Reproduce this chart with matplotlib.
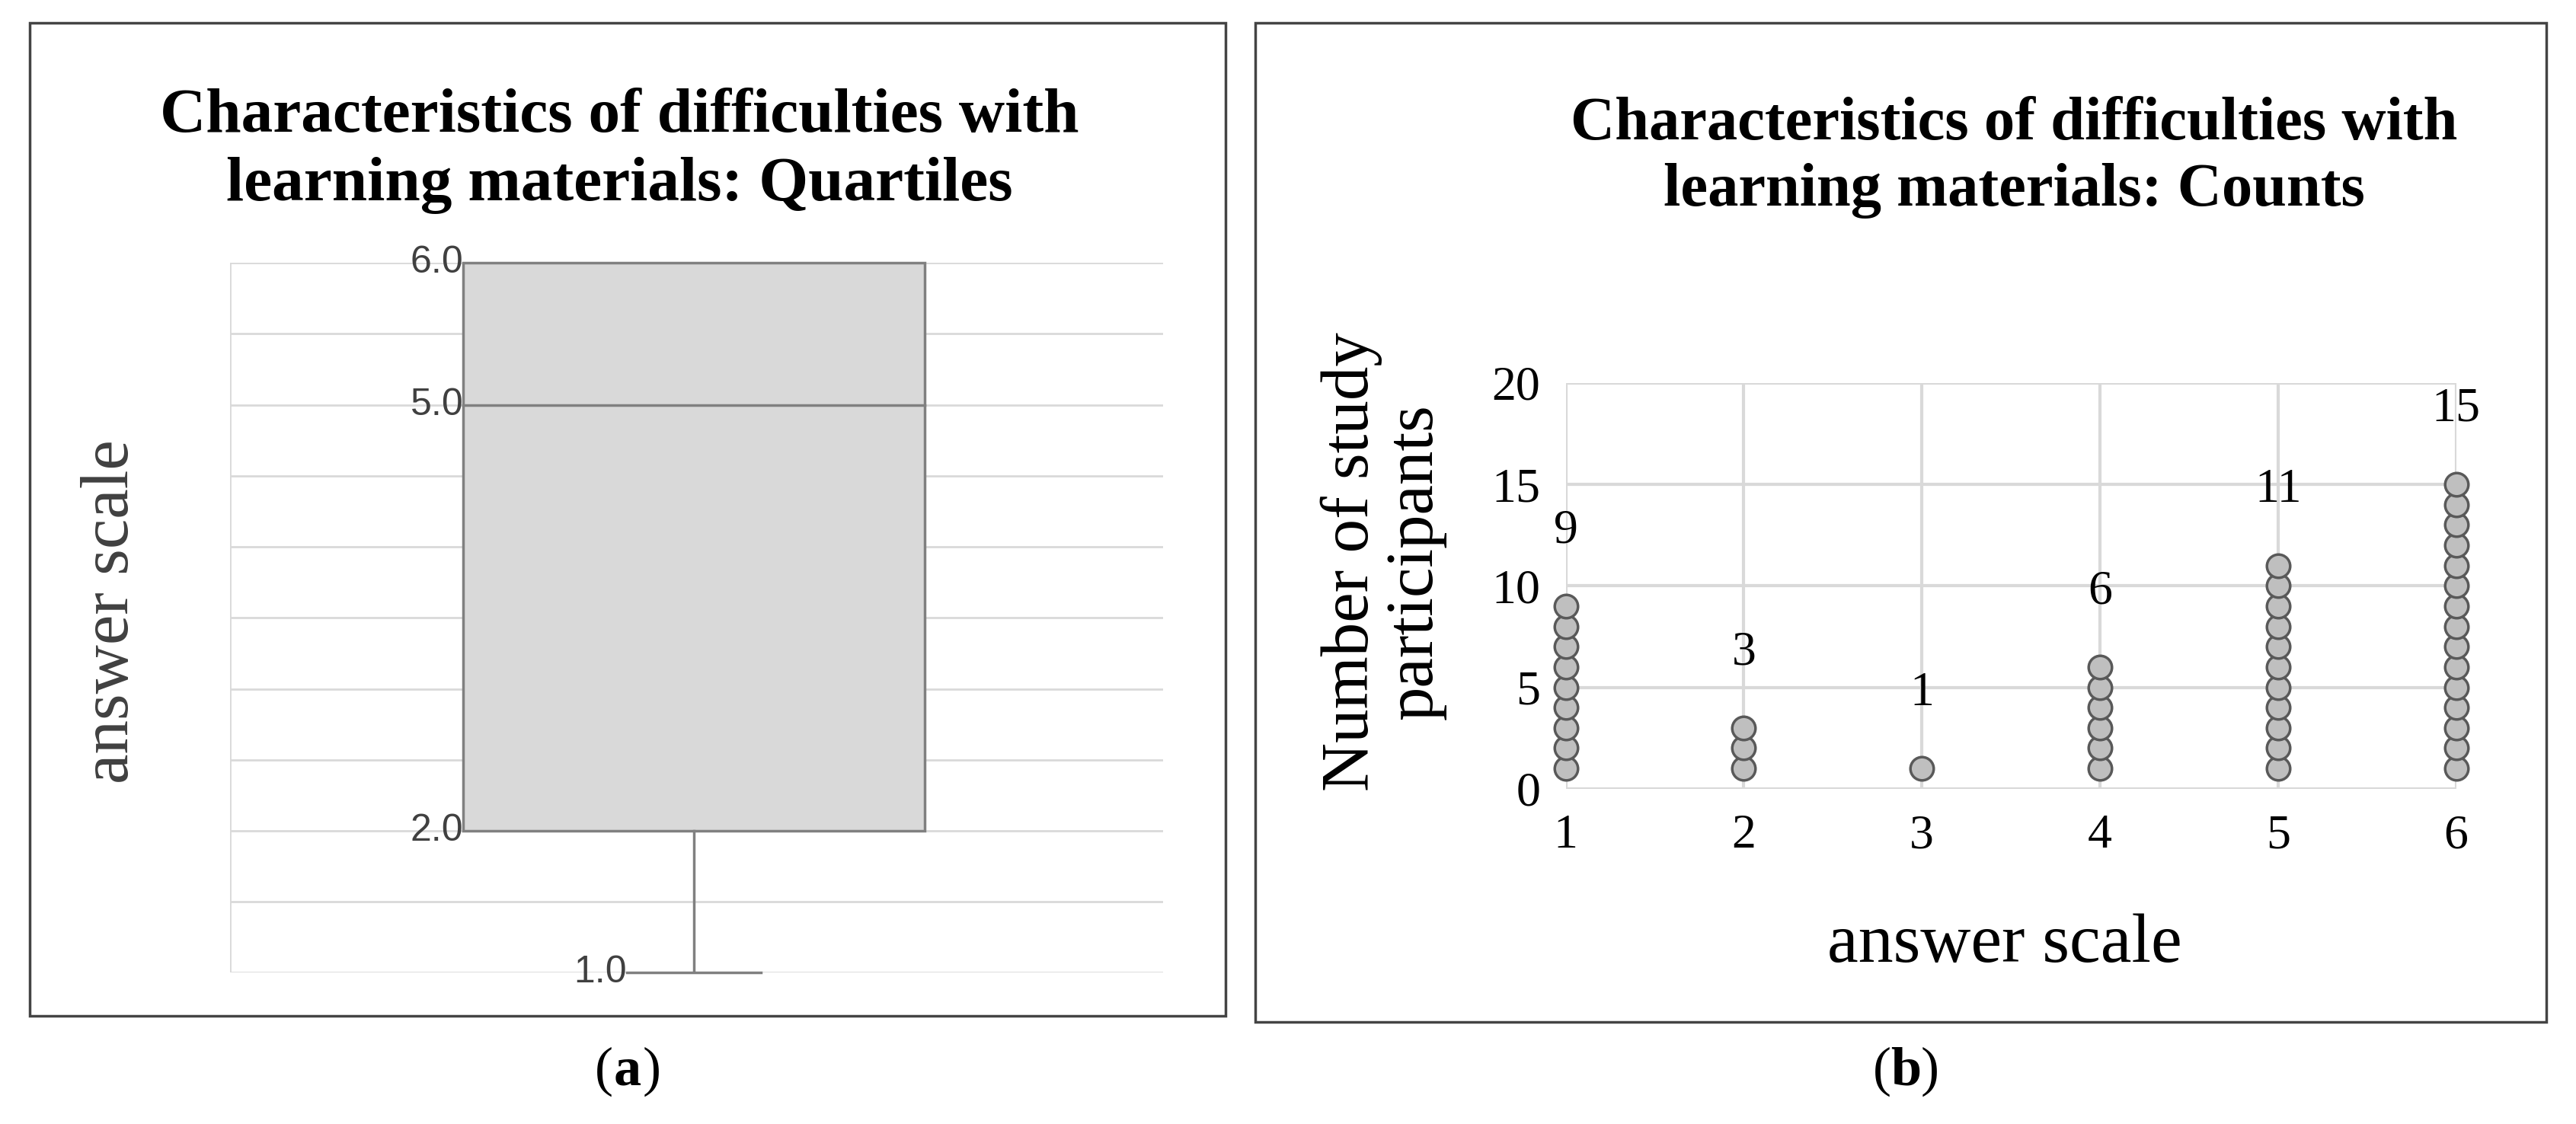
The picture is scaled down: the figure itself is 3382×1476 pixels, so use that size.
import matplotlib
matplotlib.use("Agg")
import matplotlib.pyplot as plt
from matplotlib.patches import Rectangle

# panel (a) box plot values
q_min, q1, median, q3, q_max = 1.0, 2.0, 5.0, 6.0, 6.0
quart_labels = ["6.0", "5.0", "2.0", "1.0"]
quart_values = [6.0, 5.0, 2.0, 1.0]

# panel (b) counts
answers = [1, 2, 3, 4, 5, 6]
counts = [9, 3, 1, 6, 11, 15]

W, H = 1568, 684
fig = plt.figure(figsize=(33.82, 14.76), dpi=100)
SERIF = "Liberation Serif"


def rect(x0, y0, x1, y1):
    return [x0 / W, 1 - y1 / H, (x1 - x0) / W, (y1 - y0) / H]


def ftext(x, y, s, **kw):
    return fig.text(x / W, 1 - y / H, s, **kw)


# frames
for x0, y0, x1, y1 in [(18, 14, 746, 618), (764, 14, 1550, 622)]:
    fig.patches.append(Rectangle((x0 / W, 1 - y1 / H), (x1 - x0) / W, (y1 - y0) / H,
                                 transform=fig.transFigure, fill=False,
                                 edgecolor="#444444", lw=2.5))

# ---- panel (a)
ax = fig.add_axes(rect(140, 160, 708, 592))
ax.set_xlim(0, 1)
ax.set_ylim(1, 6)
for v in [1 + 0.5 * i for i in range(11)]:
    ax.axhline(v, color="#d9d9d9", lw=2, zorder=0)
ax.plot([0, 0], [1, 6], color="#d9d9d9", lw=2, zorder=0)
bx0, bx1 = (282 - 140) / 568, (563 - 140) / 568
ax.add_patch(Rectangle((bx0, q1), bx1 - bx0, q3 - q1, facecolor="#d9d9d9",
                       edgecolor="#808080", lw=2.5, zorder=2, clip_on=False))
ax.plot([bx0, bx1], [median, median], color="#808080", lw=2.5, zorder=3, clip_on=False)
mid = (bx0 + bx1) / 2
ax.plot([mid, mid], [q_min, q1], color="#808080", lw=2.5, zorder=2)
ax.plot([mid - 0.072, mid + 0.072], [q_min, q_min], color="#808080", lw=2.5, clip_on=False)
for lab, v in zip(quart_labels, quart_values):
    xx = bx0 if v != q_min else mid - 0.072
    ax.text(xx, v, lab, ha="right", va="center", fontsize=36,
            family="Liberation Sans", color="#404040")
for s in ax.spines.values():
    s.set_visible(False)
ax.set_xticks([])
ax.set_yticks([])
ftext(68, 372, "answer scale", rotation=90, ha="center", va="center",
      fontsize=64, family=SERIF, color="#404040")
ftext(377, 92, "Characteristics of difficulties with\nlearning materials: Quartiles",
      ha="center", va="center", fontsize=60, family=SERIF, weight="bold",
      linespacing=1.25)

# ---- panel (b)
bx = fig.add_axes(rect(953, 233, 1495, 480))
bx.set_xlim(1, 6)
bx.set_ylim(0, 20)
for v in answers:
    bx.axvline(v, color="#d9d9d9", lw=3, zorder=0)
for v in range(0, 21, 5):
    bx.axhline(v, color="#d9d9d9", lw=3, zorder=0)
for a, c in zip(answers, counts):
    ys = list(range(1, c + 1))
    bx.plot([a] * c, ys, "o", ms=22, mfc="#bfbfbf", mec="#595959", mew=2.5,
            clip_on=False, zorder=3)
    bx.text(a, c + 2.6, str(c), ha="center", va="bottom", fontsize=46, family=SERIF)
for s in bx.spines.values():
    s.set_visible(False)
bx.set_xticks(answers)
bx.set_yticks(range(0, 21, 5))
bx.tick_params(length=0, labelsize=46, pad=24)
for t in bx.get_xticklabels() + bx.get_yticklabels():
    t.set_family(SERIF)
ftext(1220, 575, "answer scale", ha="center", va="center", fontsize=66, family=SERIF)
ftext(842, 342, "Number of study\nparticipants", rotation=90, ha="center", va="center",
      fontsize=64, family=SERIF, linespacing=1.05)
ftext(1226, 96, "Characteristics of difficulties with\nlearning materials: Counts",
      ha="center", va="center", fontsize=58, family=SERIF, weight="bold",
      linespacing=1.25)

# subfigure labels with bold letter
for cx, letter in [(382, "a"), (1160, "b")]:
    ftext(cx - 9, 652, "(", ha="right", va="center", fontsize=52, family=SERIF)
    ftext(cx, 652, letter, ha="center", va="center", fontsize=52, family=SERIF, weight="bold")
    ftext(cx + 9, 652, ")", ha="left", va="center", fontsize=52, family=SERIF)

fig.savefig("out.png", dpi=100)
